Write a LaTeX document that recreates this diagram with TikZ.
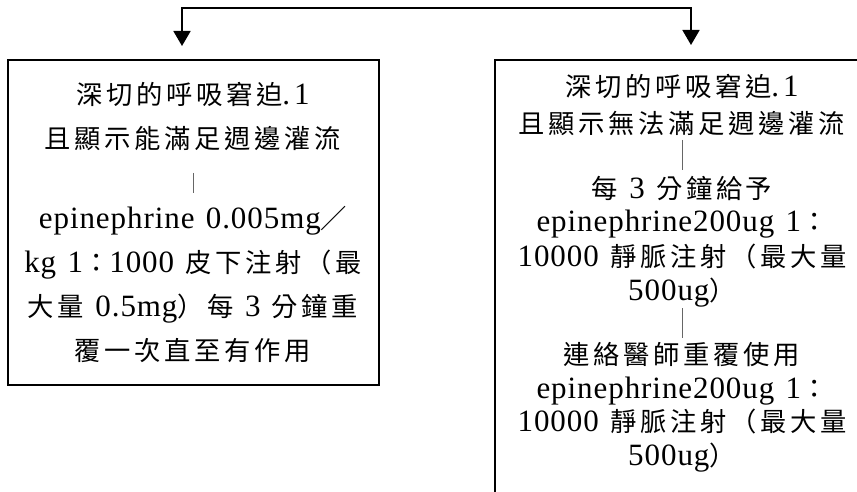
\documentclass[tikz,border=0pt]{standalone}
\usepackage{fontspec}
\setmainfont{Liberation Serif}[LetterSpace=3,WordSpace=1.3]
\newfontfamily\cjkfont[LetterSpace=14]{Noto Sans CJK TC}
\usetikzlibrary{arrows.meta}
\newcommand\C[1]{{\cjkfont\fontsize{26.3}{30}\selectfont #1}}
\newcommand\dotone{.\hspace{4pt}1}
\begin{document}
\begin{tikzpicture}[x=1pt,y=-1pt,
  frame/.style={draw, line width=1.8pt, inner sep=0pt, outer sep=0pt},
  txt/.style={anchor=base, inner sep=0pt, font=\fontsize{31}{36}\selectfont},
  bar/.style={draw=black!60, line width=0.8pt},
  link/.style={line width=1.8pt, {Triangle[length=15pt,width=17pt]}-{Triangle[length=15pt,width=17pt]}}
]
\clip (0,0) rectangle (857,492);
\fill[white] (0,0) rectangle (857,492);
% boxes
\node[frame, minimum width=371pt, minimum height=325pt] (boxL) at (193.5,222.5) {};
\node[frame, minimum width=405pt, minimum height=500pt] (boxR) at (697.5,310) {};
% connector
\coordinate (tipL) at (182,46);
\coordinate (kneeL) at (182,8);
\coordinate (kneeR) at (691,8);
\coordinate (tipR) at (691,45);
\draw[link] (tipL) -- (kneeL) -- (kneeR) -- (tipR);
% left box text
\node[txt] (l1) at (193,105) {\C{深切的呼吸窘迫}\dotone};
\node[txt] (l2) at (193,149) {\C{且顯示能滿足週邊灌流}};
\coordinate (lb1) at (193,173);
\coordinate (lb2) at (193,193);
\draw[bar] (lb1) -- (lb2);
\node[txt] (l3) at (193,228) {epinephrine 0.005mg\C{／}};
\node[txt] (l4) at (193,272) {kg 1\C{：}1000 \C{皮下注射（最}};
\node[txt] (l5) at (193,316) {\C{大量} 0.5mg\C{）每} 3 \C{分鐘重}};
\node[txt] (l6) at (193,360) {\C{覆一次直至有作用}};
% right box text
\node[txt] (r1) at (682,97) {\C{深切的呼吸窘迫}\dotone};
\node[txt] (r2) at (682,134) {\C{且顯示無法滿足週邊灌流}};
\coordinate (rb1) at (682,140);
\coordinate (rb2) at (682,170);
\draw[bar] (rb1) -- (rb2);
\node[txt] (r3) at (682,198) {\C{每} 3 \C{分鐘給予}};
\node[txt] (r4) at (682,231) {epinephrine200ug 1\C{：}};
\node[txt] (r5) at (682,266) {10000 \C{靜脈注射（最大量}};
\node[txt] (r6) at (682,300) {500ug\C{）}};
\coordinate (rb3) at (682,308);
\coordinate (rb4) at (682,338);
\draw[bar] (rb3) -- (rb4);
\node[txt] (r7) at (682,364) {\C{連絡醫師重覆使用}};
\node[txt] (r8) at (682,398) {epinephrine200ug 1\C{：}};
\node[txt] (r9) at (682,431) {10000 \C{靜脈注射（最大量}};
\node[txt] (r10) at (682,465) {500ug\C{）}};
\end{tikzpicture}
\end{document}
